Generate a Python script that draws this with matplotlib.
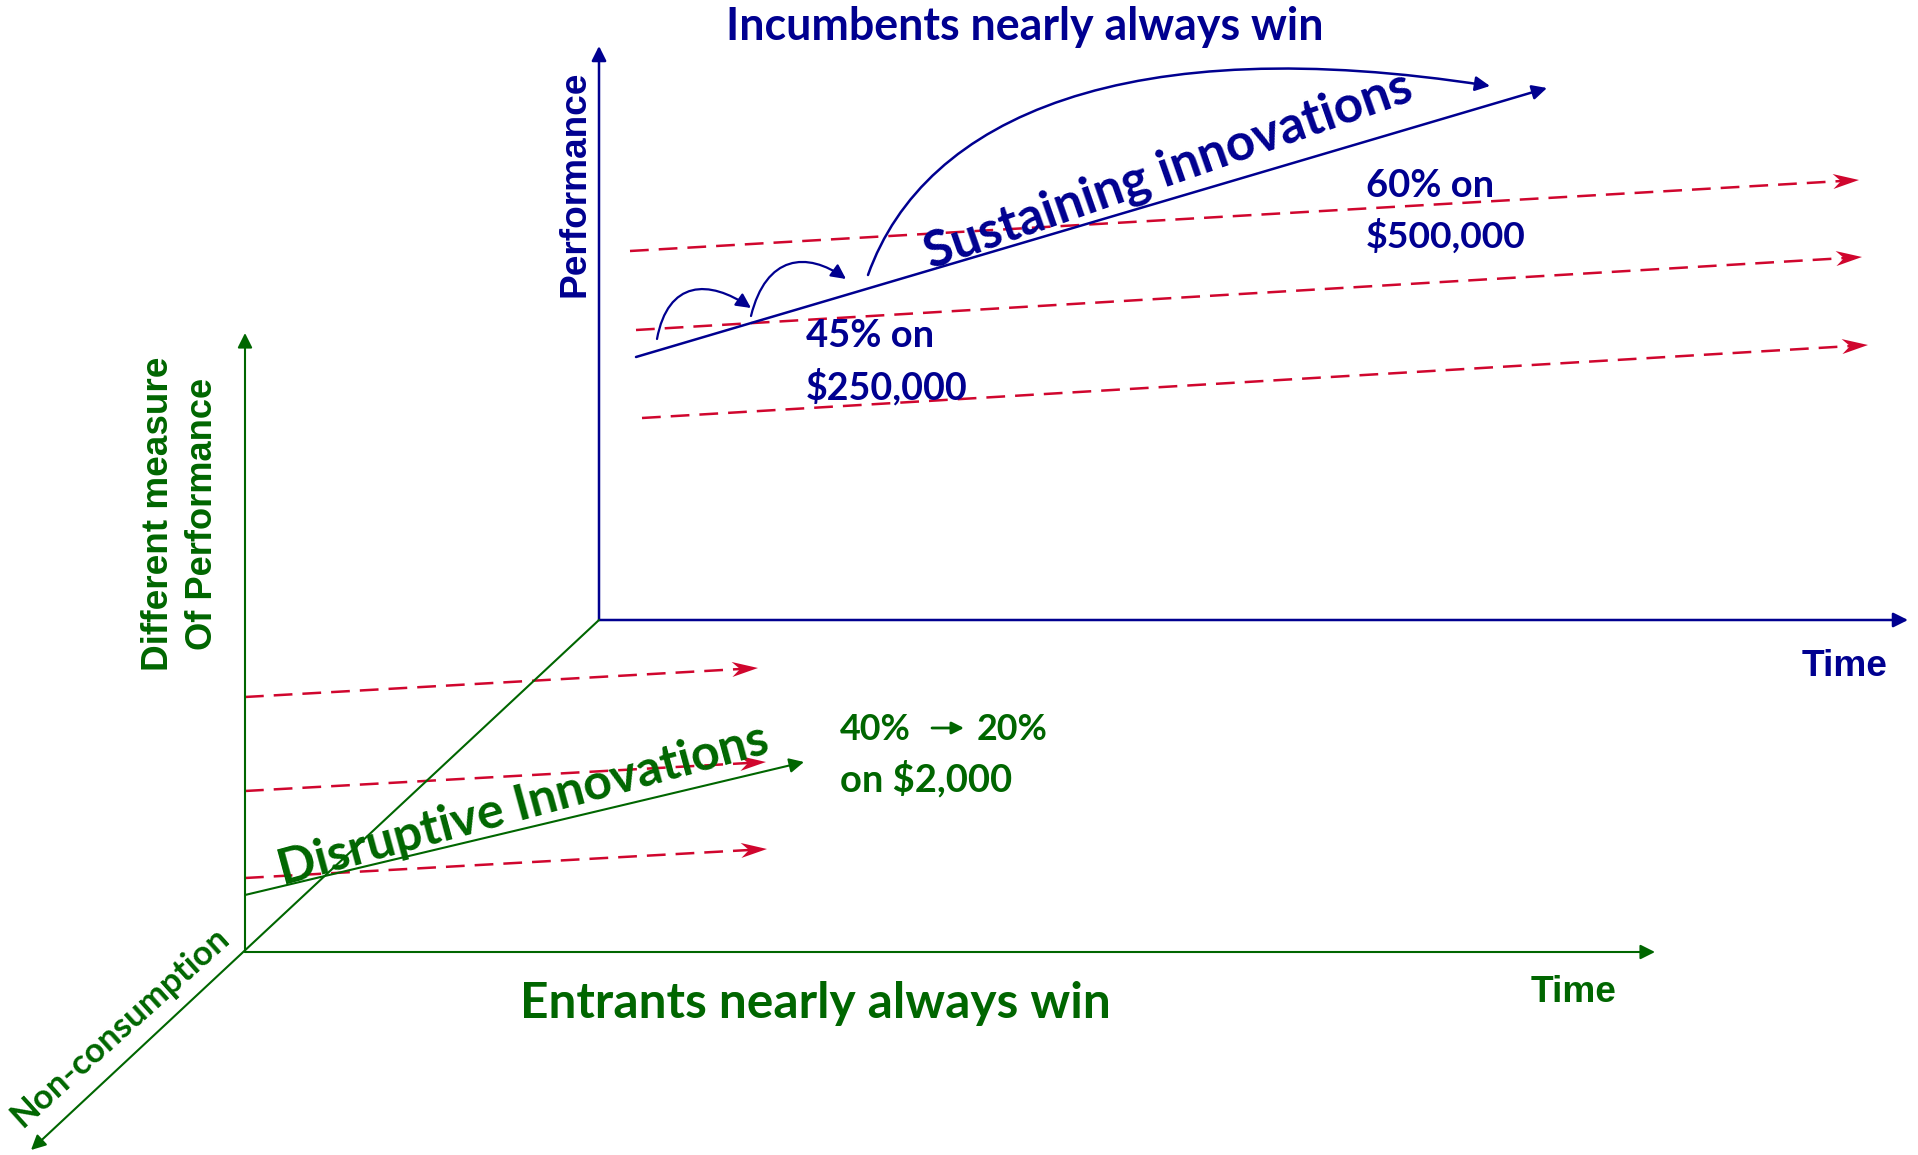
import numpy as np
import matplotlib
matplotlib.use("Agg")
import matplotlib.pyplot as plt
from matplotlib.patches import FancyArrowPatch
from matplotlib.path import Path

W, H = 1918, 1155
NAVY = "#000090"
GREEN = "#006600"
RED = "#d0062e"
CAL = "Lato"              # stand-in for Calibri
ARI = "Liberation Sans"   # stand-in for Arial

# --- diagram geometry (pixel coords, y down) ---
upper_origin = (599, 620)
upper_ytop = (599, 46)
upper_xend = (1908, 620)
lower_origin = (245, 952)
lower_ytop = (245, 333)
lower_xend = (1655, 952)
diag_end = (31, 1150)

sustain_line = [(636, 357), (1547, 88)]
disrupt_line = [(245, 895), (804, 762)]

big_curve = [(868, 275), (925, 115), (1130, 30), (1490, 86)]
hop1 = [(657, 339), (668, 280), (709, 279), (751, 308)]
hop2 = [(751, 316), (766, 255), (807, 251), (846, 279)]

red_upper = [[(630, 251), (1859, 180)],
             [(636, 330), (1862, 257)],
             [(642, 418), (1868, 345)]]
red_lower = [[(245, 697), (758, 668)],
             [(245, 791), (766, 762)],
             [(245, 878), (767, 849)]]

# text: (string, x, y, width_px, color, family, rotation, ha)
labels = [
    ("Incumbents nearly always win", 1025, 27, 597, NAVY, CAL, 0, "center"),
    ("Performance", 575, 184, 226, NAVY, ARI, 90, "center"),
    ("Time", 1845, 667, 86, NAVY, ARI, 0, "center"),
    ("Sustaining innovations", 1168, 171, 512, NAVY, CAL, 19.3, "center"),
    ("60% on", 1366, 186, 128, NAVY, CAL, 0, "left"),
    ("$500,000", 1366, 236, 160, NAVY, CAL, 0, "left"),
    ("45% on", 806, 336, 128, NAVY, CAL, 0, "left"),
    ("$250,000", 806, 387, 161, NAVY, CAL, 0, "left"),
    ("Different measure", 159, 514, 314, GREEN, ARI, 90, "center"),
    ("Of Performance", 202, 514, 272, GREEN, ARI, 90, "center"),
    ("Non-consumption", 120, 1027, 282, GREEN, CAL, 42, "center"),
    ("Entrants nearly always win", 815, 1003, 590, GREEN, CAL, 0, "center"),
    ("Time", 1574, 993, 86, GREEN, ARI, 0, "center"),
    ("Disruptive Innovations", 523, 805, 508, GREEN, CAL, 15.2, "center"),
    ("40%", 840, 729, 71, GREEN, CAL, 0, "left"),
    ("20%", 977, 729, 71, GREEN, CAL, 0, "left"),
    ("on $2,000", 840, 779, 172, GREEN, CAL, 0, "left"),
]
small_arrow = [(932, 728), (964, 728)]

fig = plt.figure(figsize=(W / 100, H / 100), dpi=100)
ax = fig.add_axes([0, 0, 1, 1])
ax.set_xlim(0, W)
ax.set_ylim(H, 0)
ax.axis("off")
renderer = fig.canvas.get_renderer()


def arrow(p0, p1, color, lw, ms=22, style="-|>"):
    ax.annotate("", xy=p1, xytext=p0,
                arrowprops=dict(arrowstyle=style, color=color, lw=lw,
                                mutation_scale=ms, shrinkA=0, shrinkB=0))


def curve(pts, color, lw):
    path = Path(pts, [Path.MOVETO, Path.CURVE4, Path.CURVE4, Path.CURVE4])
    ax.add_patch(FancyArrowPatch(path=path, arrowstyle="-|>", color=color,
                                 lw=lw, mutation_scale=22))


def dashed(p0, p1, length=26, half=7.5, notch=8):
    # dashed shaft + stealth-style head
    p0 = np.array(p0, float)
    p1 = np.array(p1, float)
    d = (p1 - p0) / np.hypot(*(p1 - p0))
    n = np.array([-d[1], d[0]])
    back = p1 - length * d
    tail = back + notch * d
    ax.plot([p0[0], tail[0]], [p0[1], tail[1]], color=RED, lw=1.8,
            dashes=(7.5, 4))
    head = np.array([p1, back + half * n, tail, back - half * n])
    ax.fill(head[:, 0], head[:, 1], color=RED, lw=0)


# axes
arrow(upper_origin, upper_ytop, NAVY, 1.8)
arrow(upper_origin, upper_xend, NAVY, 1.8)
arrow(lower_origin, lower_ytop, GREEN, 1.5)
arrow(lower_origin, lower_xend, GREEN, 1.5)
arrow(upper_origin, diag_end, GREEN, 1.5)

for seg in red_upper + red_lower:
    dashed(*seg)

arrow(sustain_line[0], sustain_line[1], NAVY, 1.8)
arrow(disrupt_line[0], disrupt_line[1], GREEN, 1.5)
curve(big_curve, NAVY, 1.8)
curve(hop1, NAVY, 1.6)
curve(hop2, NAVY, 1.6)
arrow(small_arrow[0], small_arrow[1], GREEN, 2.0, ms=18)

for s, x, y, w, c, fam, rot, ha in labels:
    t = ax.text(x, y, s, color=c, family=fam, weight="bold", fontsize=30,
                ha=ha, va="center", rotation=0, rotation_mode="anchor")
    bw = t.get_window_extent(renderer).width
    t.set_fontsize(30 * w / bw)
    t.set_rotation(rot)

fig.savefig("out.png", dpi=100)
